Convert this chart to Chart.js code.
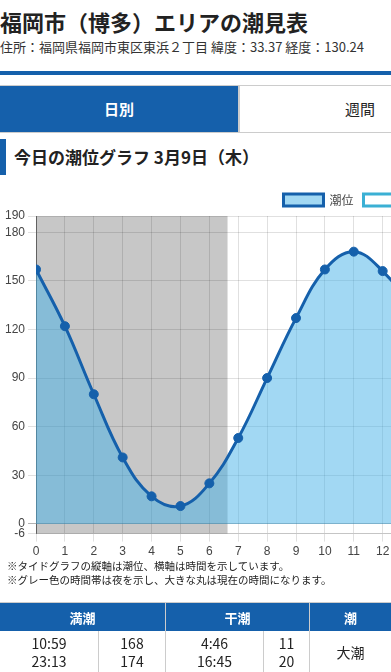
<!DOCTYPE html>
<html lang="ja">
<head>
    <meta charset="UTF-8">
    <title>福岡市（博多）エリアの潮見表</title>
    <style>
        body {
            margin: 0;
            overflow: hidden;
            font-family: "Noto Sans CJK JP", sans-serif;
            color: #222;
            background: #fff;
        }
        h1 {
            margin: 6px 0 0 0;
            height: 30px;
            line-height: 30px;
            font-size: 22px;
            font-weight: bold;
            white-space: nowrap;
        }
        .addr {
            margin: 2px 0 0 0;
            height: 18px;
            line-height: 18px;
            font-size: 13px;
            color: #333;
            white-space: nowrap;
        }
        .rule {
            margin-top: 15px;
            height: 4px;
            background: #1560ab;
        }
        .tabs {
            margin-top: 10px;
            width: 480px;
            display: flex;
            border-top: 1px solid #ccc;
            border-bottom: 1px solid #ccc;
        }
        .tabs div {
            width: 240px;
            height: 46px;
            line-height: 46px;
            text-align: center;
            font-size: 15px;
        }
        .tabs .on {
            width: 238px;
            background: #1560ab;
            color: #fff;
            font-weight: bold;
            border-right: 2px solid #ccc;
        }
        h2 {
            margin: 6px 0 0 0;
            height: 36px;
            line-height: 36px;
            font-size: 17px;
            font-weight: bold;
            border-left: 6px solid #1560ab;
            padding-left: 8px;
            white-space: nowrap;
        }
        .chart-box {
            margin-top: 9px;
            width: 739px;
            height: 378px;
        }
        .notes {
            margin: -3px 0 0 7px;
            font-size: 10.5px;
            line-height: 14px;
            color: #222;
            white-space: nowrap;
        }
        table {
            margin-top: 15px;
            width: 391px;
            border-collapse: collapse;
            border-top: 1px solid #ccc;
        }
        th {
            background: #1560ab;
            color: #fff;
            font-size: 13px;
            height: 28px;
            padding: 0;
            border-left: 1px solid #ccc;
        }
        th:first-child, td:first-child {
            border-left: none;
        }
        td {
            text-align: center;
            font-size: 14px;
            line-height: 18px;
            padding: 3px 0 3px 0;
            border-left: 1px solid #ccc;
            color: #222;
        }
    </style>
    <script src="https://cdn.jsdelivr.net/npm/chart.js"></script>
</head>
<body>
    <h1>福岡市（博多）エリアの潮見表</h1>
    <p class="addr">住所：福岡県福岡市東区東浜２丁目 緯度：33.37 経度：130.24</p>
    <div class="rule"></div>
    <div class="tabs">
        <div class="on">日別</div>
        <div>週間</div>
    </div>
    <h2>今日の潮位グラフ 3月9日（木）</h2>
    <div class="chart-box">
        <canvas id="tide-chart" width="739" height="378"></canvas>
    </div>
    <div class="notes">
        ※タイドグラフの縦軸は潮位、横軸は時間を示しています。<br>
        ※グレー色の時間帯は夜を示し、大きな丸は現在の時間になります。
    </div>
    <table>
        <tr>
            <th colspan="2">満潮</th>
            <th colspan="2">干潮</th>
            <th>潮</th>
        </tr>
        <tr>
            <td style="width:98px">10:59<br>23:13</td>
            <td style="width:66px">168<br>174</td>
            <td style="width:97px">4:46<br>16:45</td>
            <td style="width:45px">11<br>20</td>
            <td>大潮</td>
        </tr>
    </table>

    <script>
        // hourly tide level (cm), 0時〜24時
        const hours = [0, 1, 2, 3, 4, 5, 6, 7, 8, 9, 10, 11, 12, 13, 14, 15, 16, 17, 18, 19, 20, 21, 22, 23, 24];
        const tideLevels = [157, 122, 80, 41, 17, 11, 25, 53, 90, 127, 157, 168, 156, 133, 100, 64, 33, 21, 31, 58, 95, 132, 162, 174, 170];
        const yTickValues = [-6, 0, 30, 60, 90, 120, 150, 180, 190];
        // night time ranges (hours): before sunrise / after sunset
        const nightStarts = [0, 18.33];
        const nightEnds = [6.63, 24];

        const nightShade = {
            id: 'nightShade',
            beforeDatasetsDraw(chart) {
                const ctx = chart.ctx;
                const x = chart.scales.x;
                const area = chart.chartArea;
                ctx.save();
                ctx.fillStyle = 'rgba(0, 0, 0, 0.22)';
                for (let i = 0; i < nightStarts.length; i++) {
                    const x1 = x.getPixelForValue(nightStarts[i]);
                    const x2 = x.getPixelForValue(nightEnds[i]);
                    ctx.fillRect(x1, area.top, x2 - x1, area.bottom - area.top);
                }
                ctx.restore();
            }
        };

        Chart.defaults.font.family = "'Liberation Sans', Arial, sans-serif";
        Chart.defaults.font.size = 12;
        Chart.defaults.color = '#444';

        const points = hours.map((h, i) => ({ x: h, y: tideLevels[i] }));

        new Chart(document.getElementById('tide-chart'), {
            type: 'line',
            data: {
                datasets: [{
                    label: '潮位',
                    data: points,
                    borderColor: '#1560ab',
                    backgroundColor: 'rgba(70, 178, 232, 0.5)',
                    borderWidth: 3,
                    fill: 'origin',
                    tension: 0.4,
                    pointRadius: 4.5,
                    pointBackgroundColor: '#1560ab',
                    pointBorderColor: '#1560ab',
                    pointBorderWidth: 1
                }, {
                    label: '現在時刻',
                    data: [],
                    borderColor: '#3bb0d4',
                    backgroundColor: '#fff',
                    borderWidth: 3,
                    pointRadius: 8
                }]
            },
            options: {
                responsive: false,
                animation: false,
                layout: { padding: { left: 2, right: 0, top: 0, bottom: 0 } },
                plugins: {
                    legend: {
                        position: 'top',
                        labels: {
                            boxWidth: 40,
                            boxHeight: 12,
                            padding: 10,
                            color: '#444',
                            font: { family: "'Noto Sans CJK JP', sans-serif", size: 12 }
                        }
                    },
                    tooltip: { enabled: false }
                },
                scales: {
                    x: {
                        type: 'linear',
                        min: 0,
                        max: 24,
                        ticks: { stepSize: 1, autoSkip: false, maxRotation: 0 },
                        grid: { color: 'rgba(0, 0, 0, 0.12)' },
                        border: { color: 'rgba(0, 0, 0, 0.12)' }
                    },
                    y: {
                        min: -6,
                        max: 190,
                        afterBuildTicks: (axis) => {
                            axis.ticks = yTickValues.map(v => ({ value: v }));
                        },
                        ticks: { autoSkip: false },
                        grid: {
                            color: (c) => c.tick && c.tick.value === 0 ? 'rgba(0, 0, 0, 0.3)' : 'rgba(0, 0, 0, 0.12)'
                        },
                        border: { color: 'rgba(0, 0, 0, 0.45)' }
                    }
                }
            },
            plugins: [nightShade]
        });
    </script>
</body>
</html>
